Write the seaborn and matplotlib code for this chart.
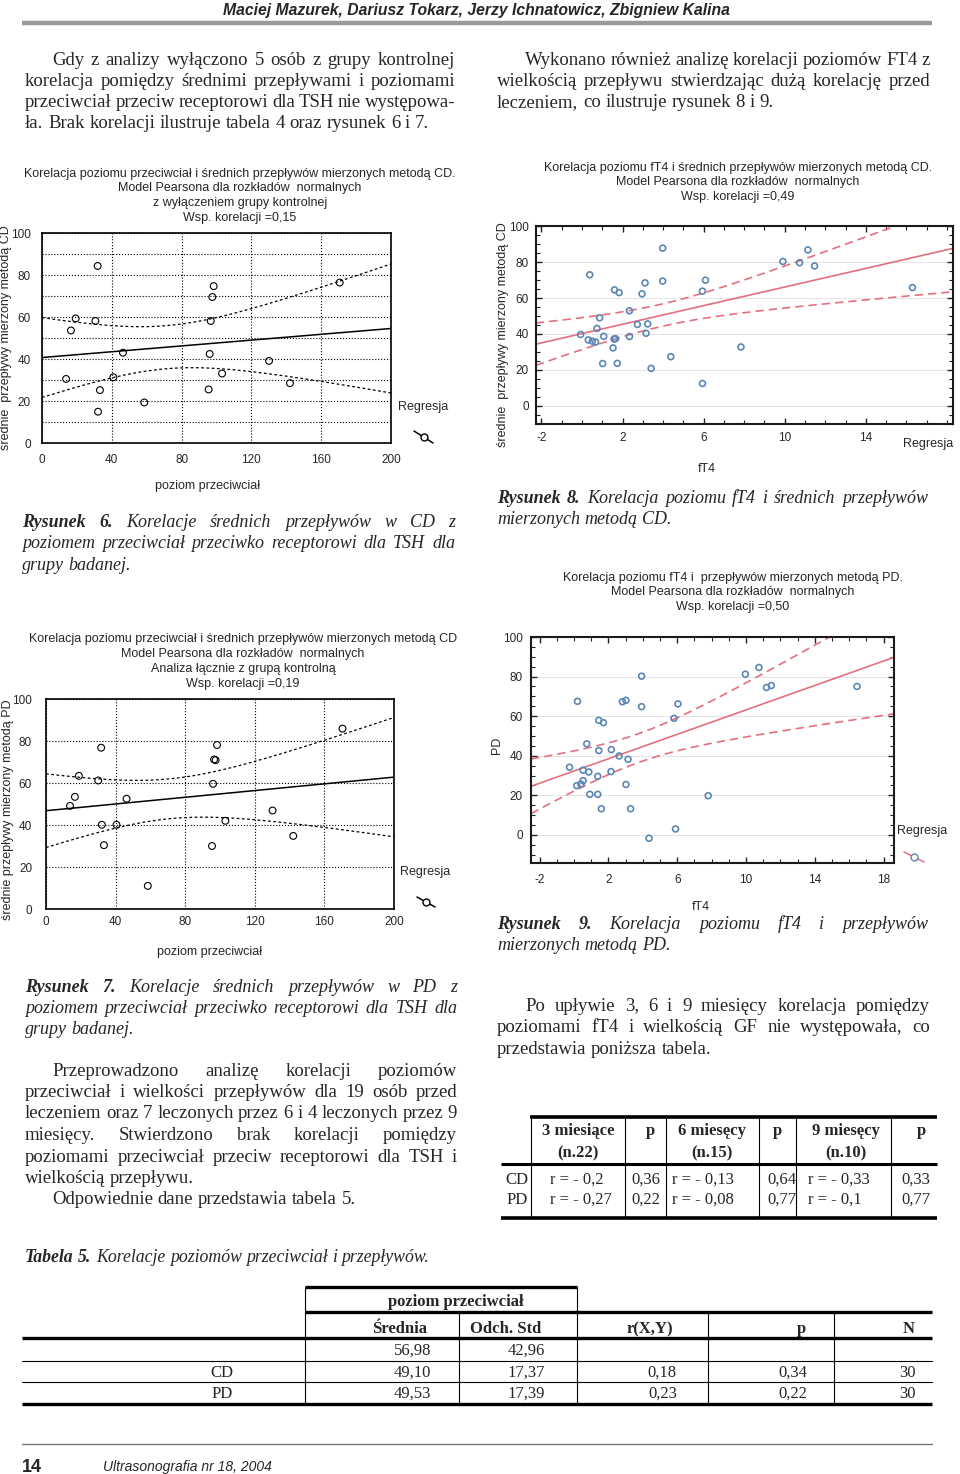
import matplotlib
matplotlib.use("Agg")
import matplotlib.pyplot as plt
import numpy as np
import seaborn as sns
from matplotlib import font_manager

# ---- dane ----
# Rys. 6: poziom przeciwciał vs średnie przepływy CD (bez grupy kontrolnej)
ab6_x = [31.9, 19.3, 30.6, 16.6, 98.4, 97.6, 96.7, 170.6, 46.4, 96.1,
         130.1, 13.8, 40.9, 103.2, 33.2, 95.5, 142.1, 58.6, 32.1]
cd6_y = [84.3, 59.3, 58.1, 53.6, 74.7, 69.5, 58.1, 76.4, 43.0, 42.4,
         39.1, 30.5, 31.3, 33.1, 25.2, 25.5, 28.5, 19.3, 14.9]

# Rys. 7: poziom przeciwciał vs średnie przepływy PD
ab7_x = [31.7, 18.9, 30.0, 16.6, 13.8, 46.3, 32.1, 40.5, 33.3, 58.5,
         98.3, 96.6, 97.5, 96.0, 103.1, 95.4, 130.2, 142.1, 170.4]
pd7_y = [76.8, 63.4, 61.2, 53.4, 49.1, 52.5, 40.1, 40.1, 30.4, 11.0,
         78.1, 71.2, 70.9, 59.6, 42.0, 30.0, 46.9, 34.8, 85.9]

# Rys. 8: fT4 vs średnie przepływy CD
ft4_8 = [0.38, 3.98, 1.60, 1.83, 2.96, 3.11, 3.98, 5.94, 6.09, 9.91,
         10.73, 11.14, 11.47, 16.30, 2.34, 0.87, 0.74, -0.07, 0.31, 0.51,
         0.67, 1.07, 1.58, 1.65, 1.53, 2.34, 2.73, 3.24, 3.16, 1.02,
         1.74, 3.41, 4.38, 7.84, 5.94]
cd8_y = [72.9, 87.7, 64.5, 63.0, 62.3, 68.4, 69.4, 63.8, 69.9, 80.3,
         79.6, 86.7, 77.8, 65.8, 52.9, 49.0, 43.1, 39.7, 36.7, 36.0,
         35.5, 38.7, 37.2, 37.4, 32.3, 38.6, 45.3, 45.6, 40.4, 23.6,
         23.7, 20.9, 27.4, 32.8, 12.5]

# Rys. 9: fT4 vs przepływy PD
ft4_9 = [0.20, 3.93, 2.81, 3.02, 3.93, 6.04, 5.81, 1.44, 1.71, 9.96,
         10.75, 11.19, 11.47, 16.45, 0.74, 1.44, 2.17, 2.62, 3.14, -0.26,
         0.53, 0.86, 2.15, 1.38, 0.53, 0.40, 0.16, 3.02, 0.92, 1.38,
         7.80, 1.59, 3.29, 5.90, 4.36]
pd9_y = [67.5, 80.2, 67.3, 68.0, 64.8, 66.2, 58.9, 57.9, 56.7, 81.2,
         84.6, 74.5, 75.5, 75.0, 46.0, 42.6, 43.1, 39.9, 38.2, 34.2,
         32.7, 31.8, 32.0, 29.6, 27.4, 25.7, 24.9, 25.5, 20.5, 20.5,
         19.8, 13.2, 13.2, 3.0, -1.7]

ab_ticks = [0, 40, 80, 120, 160, 200]
ft4_ticks_8 = [-2, 2, 6, 10, 14]
ft4_ticks_9 = [-2, 2, 6, 10, 14, 18]
flow_ticks = [0, 20, 40, 60, 80, 100]

# tabela miesięcy
mies_head = ["3 miesiące\n(n.22)", "p", "6 miesęcy\n(n.15)", "p", "9 miesęcy\n(n.10)", "p"]
mies_rows = ["CD", "PD"]
mies_r = [["r = - 0,2", "r = - 0,13", "r = - 0,33"],
          ["r = - 0,27", "r = - 0,08", "r = - 0,1"]]
mies_p = [["0,36", "0,64", "0,33"],
          ["0,22", "0,77", "0,77"]]

# tabela 5
t5_head = ["Średnia", "Odch. Std", "r(X,Y)", "p", "N"]
t5_rows = ["", "CD", "PD"]
t5_srednia = ["56,98", "49,10", "49,53"]
t5_odch = ["42,96", "17,37", "17,39"]
t5_r = ["", "0,18", "0,23"]
t5_p = ["", "0,34", "0,22"]
t5_n = ["", "30", "30"]

SERIF = "Liberation Serif"
SANS = "Liberation Sans"
try:
    font_manager.findfont("Liberation Sans Narrow", fallback_to_default=False)
    NARROW = "Liberation Sans Narrow"
except Exception:
    NARROW = SANS

W, H = 960, 1474
sns.set_style("white")
plt.rcParams["font.family"] = [SANS, "DejaVu Sans"]
plt.rcParams["axes.unicode_minus"] = False

fig = plt.figure(figsize=(W / 100, H / 100), dpi=100)
page = fig.add_axes([0, 0, 1, 1])
page.set_xlim(0, W)
page.set_ylim(H, 0)
page.axis("off")
renderer = fig.canvas.get_renderer()


def px_axes(l, t, r, b):
    return fig.add_axes([l / W, 1 - b / H, (r - l) / W, (b - t) / H])


def t975(df):
    z = 1.959964
    return z + (z ** 3 + z) / (4 * df) + (5 * z ** 5 + 16 * z ** 3 + 3 * z) / (96 * df ** 2)


def conf_band(x, y, grid):
    x = np.asarray(x)
    y = np.asarray(y)
    n = len(x)
    b, a = np.polyfit(x, y, 1)
    s = np.sqrt(((y - (a + b * x)) ** 2).sum() / (n - 2))
    sxx = ((x - x.mean()) ** 2).sum()
    half = t975(n - 2) * s * np.sqrt(1 / n + (grid - x.mean()) ** 2 / sxx)
    fit = a + b * grid
    return fit - half, fit + half


def text_line(x0, x1, y, words, size, justify=True, family=SERIF):
    items = []
    for word, weight, style in words:
        t = page.text(x0, y, word, fontsize=size, family=family, fontweight=weight,
                      fontstyle=style, ha="left", va="center_baseline")
        items.append((t, t.get_window_extent(renderer).width))
    total = sum(w for _, w in items)
    if justify and len(items) > 1:
        gap = (x1 - x0 - total) / (len(items) - 1)
    else:
        gap = size * 100 / 72 * 0.25
    x = x0
    for t, w in items:
        t.set_x(x)
        x += w + gap


def paragraph(lines, x0, x1, y0, dy, size, style="normal", indent=None,
              last_justify=False, bold_first=0, nojust=()):
    for i, line in enumerate(lines):
        words = []
        for j, w in enumerate(line.split()):
            if i == 0 and j < bold_first:
                words.append((w, "bold", style))
            else:
                words.append((w, "normal", style))
        start = x0
        if indent is not None and i in indent:
            start = indent[i]
        just = (i < len(lines) - 1 or last_justify) and i not in nojust
        text_line(start, x1, y0 + i * dy, words, size, justify=just)


def legend_glyph(x0, y0, x1, y1, lc, mc):
    page.plot([x0, x1], [y0, y1], color=lc, lw=1.1)
    page.plot([(x0 + x1) / 2], [(y0 + y1) / 2], marker="o", ms=5, mfc="white",
              mec=mc, mew=1.0)


def bw_chart(ax, x, y, minor_y):
    ax.set_xlim(0, 200)
    ax.set_ylim(0, 100)
    sns.scatterplot(x=x, y=y, ax=ax, s=24, marker="o", color="none",
                    edgecolor="black", linewidth=0.8, zorder=3)
    ax.collections[-1].set_facecolor("none")
    ax.collections[-1].set_edgecolor("black")
    sns.regplot(x=x, y=y, ax=ax, scatter=False, ci=None, truncate=False,
                line_kws=dict(color="black", lw=1.1))
    grid = np.linspace(0, 200, 200)
    lo, hi = conf_band(x, y, grid)
    ax.plot(grid, lo, color="black", lw=0.9, ls=(0, (2.2, 2)))
    ax.plot(grid, hi, color="black", lw=0.9, ls=(0, (2.2, 2)))
    ax.set_xlim(0, 200)
    ax.set_ylim(0, 100)
    ax.set_xticks(ab_ticks)
    ax.set_yticks(flow_ticks)
    if minor_y:
        ax.set_yticks(np.arange(10, 100, 10), minor=True)
        ax.grid(True, which="minor", axis="y", ls=":", color="black", lw=0.8)
    ax.grid(True, which="major", ls=":", color="black", lw=0.8)
    ax.set_axisbelow(True)
    for sp in ax.spines.values():
        sp.set_visible(True)
        sp.set_color("black")
        sp.set_linewidth(1.2)
    ax.set_xlabel("")
    ax.set_ylabel("")


def color_chart(ax, x, y, xlim, ylim, xticks):
    blue = "#5c86b5"
    red = "#e3707f"
    ax.set_xlim(*xlim)
    ax.set_ylim(*ylim)
    sns.scatterplot(x=x, y=y, ax=ax, s=18, marker="o", color="none",
                    edgecolor=blue, linewidth=1.2, zorder=3)
    ax.collections[-1].set_facecolor("none")
    ax.collections[-1].set_edgecolor(blue)
    sns.regplot(x=x, y=y, ax=ax, scatter=False, ci=None, truncate=False,
                line_kws=dict(color=red, lw=1.2))
    grid = np.linspace(xlim[0], xlim[1], 200)
    lo, hi = conf_band(x, y, grid)
    ax.plot(grid, lo, color=red, lw=1.2, ls=(0, (5, 3)))
    ax.plot(grid, hi, color=red, lw=1.2, ls=(0, (5, 3)))
    ax.set_xlim(*xlim)
    ax.set_ylim(*ylim)
    ax.set_xticks(xticks)
    ax.set_yticks(flow_ticks)
    ax.set_xticks(np.arange(np.ceil(xlim[0]), xlim[1], 1), minor=True)
    ax.set_yticks(np.arange(-10, 101, 5), minor=True)
    ax.grid(True, which="major", axis="y", color="#e4e4e4", lw=0.7)
    ax.set_axisbelow(True)
    ax.tick_params(which="both", direction="in", top=True, right=True,
                   bottom=True, left=True, color="#222222")
    ax.tick_params(which="major", length=4, width=1)
    ax.tick_params(which="minor", length=3, width=0.8)
    for sp in ax.spines.values():
        sp.set_visible(True)
        sp.set_color("#1a1a1a")
        sp.set_linewidth(1.5)
    ax.set_xlabel("")
    ax.set_ylabel("")


TICK = 8.5
CT = 9

# ---- nagłówek ----
page.text(476, 9, "Maciej Mazurek, Dariusz Tokarz, Jerzy Ichnatowicz, Zbigniew Kalina",
          family=NARROW, fontsize=11.3, fontweight="bold", fontstyle="italic",
          ha="center", va="center_baseline")
page.plot([22, 932], [23, 23], color="#9a9a9a", lw=3.2, solid_capstyle="butt")

paragraph(["Gdy z analizy wyłączono 5 osób z grupy kontrolnej",
           "korelacja pomiędzy średnimi przepływami i poziomami",
           "przeciwciał przeciw receptorowi dla TSH nie występowa-",
           "ła. Brak korelacji ilustruje tabela 4 oraz rysunek 6 i 7."],
          25, 455, 58, 21.3, 13.5, indent={0: 52})
paragraph(["Wykonano również analizę korelacji poziomów FT4 z",
           "wielkością przepływu stwierdzając dużą korelację przed",
           "leczeniem, co ilustruje rysunek 8 i 9."],
          497, 930, 58, 21.3, 13.5, indent={0: 525})

# ---- Rysunek 6 ----
for i, s in enumerate(["Korelacja poziomu przeciwciał i średnich przepływów mierzonych metodą CD.",
                       "Model Pearsona dla rozkładów  normalnych",
                       "z wyłączeniem grupy kontrolnej",
                       "Wsp. korelacji =0,15"]):
    page.text(240, 172 + i * 14.7, s, fontsize=CT, ha="center", va="center_baseline")
ax6 = px_axes(42, 233, 391, 443)
bw_chart(ax6, ab6_x, cd6_y, minor_y=True)
ax6.tick_params(axis="both", length=0, labelsize=TICK)
ax6.tick_params(axis="y", pad=8)
ax6.tick_params(axis="x", pad=8)
page.text(6, 338, "średnie  przepływy mierzony metodą CD", rotation=90, fontsize=CT,
          ha="center", va="center")
page.text(208, 484, "poziom przeciwciał", fontsize=CT, ha="center", va="center_baseline")
page.text(398, 405, "Regresja", fontsize=CT, ha="left", va="center_baseline")
legend_glyph(414, 431, 433, 443, "black", "black")

paragraph(["Rysunek 6. Korelacje średnich przepływów w CD z",
           "poziomem przeciwciał przeciwko receptorowi dla TSH dla",
           "grupy badanej."],
          22, 455, 520, 21.5, 13, style="italic", bold_first=2)

# ---- Rysunek 8 ----
for i, s in enumerate(["Korelacja poziomu fT4 i średnich przepływów mierzonych metodą CD.",
                       "Model Pearsona dla rozkładów  normalnych",
                       "Wsp. korelacji =0,49"]):
    page.text(738, 166 + i * 14.7, s, fontsize=CT, ha="center", va="center_baseline")
ax8 = px_axes(536, 226, 953, 424)
color_chart(ax8, ft4_8, cd8_y, (-2.27, 18.3), (0, 100), ft4_ticks_8)
ax8.tick_params(which="both", labelsize=TICK)
ax8.tick_params(axis="y", which="major", pad=5)
ax8.tick_params(axis="x", which="major", pad=6)
page.text(503, 335, "średnie  przepływy mierzony metodą CD", rotation=90, fontsize=CT,
          ha="center", va="center")
page.text(707, 467, "fT4", fontsize=CT, ha="center", va="center_baseline")
page.text(953, 442, "Regresja", fontsize=CT, ha="right", va="center_baseline")

paragraph(["Rysunek 8. Korelacja poziomu fT4 i średnich przepływów",
           "mierzonych metodą CD."],
          497, 928, 496, 21.5, 13, style="italic", bold_first=2)

# ---- Rysunek 7 ----
for i, s in enumerate(["Korelacja poziomu przeciwciał i średnich przepływów mierzonych metodą CD",
                       "Model Pearsona dla rozkładów  normalnych",
                       "Analiza łącznie z grupą kontrolną",
                       "Wsp. korelacji =0,19"]):
    page.text(243, 637 + i * 15, s, fontsize=CT, ha="center", va="center_baseline")
ax7 = px_axes(46, 699, 394, 909)
bw_chart(ax7, ab7_x, pd7_y, minor_y=False)
ax7.tick_params(axis="both", length=0, labelsize=TICK)
ax7.tick_params(axis="y", pad=10)
ax7.tick_params(axis="x", pad=5)
page.text(8, 810, "średnie przepływy mierzony metodą PD", rotation=90, fontsize=CT,
          ha="center", va="center")
page.text(210, 950, "poziom przeciwciał", fontsize=CT, ha="center", va="center_baseline")
page.text(400, 870, "Regresja", fontsize=CT, ha="left", va="center_baseline")
legend_glyph(417, 897, 435, 907, "black", "black")

paragraph(["Rysunek 7. Korelacje średnich przepływów w PD z",
           "poziomem przeciwciał przeciwko receptorowi dla TSH dla",
           "grupy badanej."],
          25, 457, 985, 21.5, 13, style="italic", bold_first=2)

paragraph(["Przeprowadzono analizę korelacji poziomów",
           "przeciwciał i wielkości przepływów dla 19 osób przed",
           "leczeniem oraz 7 leczonych przez 6 i 4 leczonych przez 9",
           "miesięcy. Stwierdzono brak korelacji pomiędzy",
           "poziomami przeciwciał przeciw receptorowi dla TSH i",
           "wielkością przepływu.",
           "Odpowiednie dane przedstawia tabela 5."],
          25, 457, 1069, 21.5, 13.5, indent={0: 52, 6: 52}, nojust=(5,))

# ---- Rysunek 9 ----
for i, s in enumerate(["Korelacja poziomu fT4 i  przepływów mierzonych metodą PD.",
                       "Model Pearsona dla rozkładów  normalnych",
                       "Wsp. korelacji =0,50"]):
    page.text(733, 576 + i * 14.8, s, fontsize=CT, ha="center", va="center_baseline")
ax9 = px_axes(531, 637, 894, 863)
color_chart(ax9, ft4_9, pd9_y, (-2.5, 18.6), (-14.2, 100), ft4_ticks_9)
ax9.tick_params(which="both", labelsize=TICK)
ax9.tick_params(axis="y", which="major", pad=6)
ax9.tick_params(axis="x", which="major", pad=8)
page.text(497, 745, "PD", rotation=90, fontsize=CT, ha="center", va="center")
page.text(701, 905, "fT4", fontsize=CT, ha="center", va="center_baseline")
page.text(897, 829, "Regresja", fontsize=CT, ha="left", va="center_baseline")
legend_glyph(904, 852, 924, 862, "#e3707f", "#5c86b5")

paragraph(["Rysunek 9. Korelacja poziomu fT4 i  przepływów",
           "mierzonych metodą PD."],
          497, 928, 922, 21.5, 13, style="italic", bold_first=2)

paragraph(["Po upływie 3, 6 i 9 miesięcy korelacja pomiędzy",
           "poziomami fT4 i wielkością GF nie występowała, co",
           "przedstawia poniższa tabela."],
          497, 930, 1004, 21.5, 13.5, indent={0: 525})

# ---- tabela miesięcy ----
TS = 12
page.plot([530, 937], [1117, 1117], color="black", lw=2.6, solid_capstyle="butt")
page.plot([501, 937], [1164, 1164], color="black", lw=2.2, solid_capstyle="butt")
page.plot([501, 937], [1218, 1218], color="black", lw=2.6, solid_capstyle="butt")
for vx in [531, 625, 666, 759, 796, 891]:
    page.plot([vx, vx], [1117, 1218], color="black", lw=0.8)
head_x = [578, 650, 712, 777, 846, 921]
for hx, hs in zip(head_x, mies_head):
    lines = hs.split("\n")
    for k, ln in enumerate(lines):
        page.text(hx, 1129 + k * 22, ln, family=SERIF, fontsize=TS, fontweight="bold",
                  ha="center", va="center_baseline")
row_y = [1178, 1198]
r_x = [550, 672, 808]
p_x = [625, 762, 895]
for i, name in enumerate(mies_rows):
    page.text(517, row_y[i], name, family=SERIF, fontsize=TS, ha="center",
              va="center_baseline")
    for j in range(3):
        page.text(r_x[j], row_y[i], mies_r[i][j], family=SERIF, fontsize=TS,
                  ha="left", va="center_baseline")
        page.text(p_x[j] + 35, row_y[i], mies_p[i][j], family=SERIF, fontsize=TS,
                  ha="right", va="center_baseline")

# ---- Tabela 5 ----
text_line(25, 440, 1255, [("Tabela", "bold", "italic"), ("5.", "bold", "italic"),
                          ("Korelacje", "normal", "italic"), ("poziomów", "normal", "italic"),
                          ("przeciwciał", "normal", "italic"), ("i", "normal", "italic"),
                          ("przepływów.", "normal", "italic")], 12.8, justify=False)

page.plot([305, 577], [1287, 1287], color="black", lw=2.4, solid_capstyle="butt")
page.plot([305, 932], [1312, 1312], color="black", lw=2.4, solid_capstyle="butt")
page.plot([22, 932], [1338, 1338], color="black", lw=2.4, solid_capstyle="butt")
page.plot([22, 932], [1361, 1361], color="black", lw=0.8)
page.plot([22, 932], [1382, 1382], color="black", lw=0.8)
page.plot([22, 932], [1404, 1404], color="black", lw=2.4, solid_capstyle="butt")
for vx, top in [(305, 1287), (459, 1312), (577, 1287), (708, 1312), (834, 1312)]:
    page.plot([vx, vx], [top, 1404], color="black", lw=0.8)
page.text(456, 1300, "poziom przeciwciał", family=SERIF, fontsize=12, fontweight="bold",
          ha="center", va="center_baseline")
for hx, hs in zip([400, 506, 650, 801, 909], t5_head):
    page.text(hx, 1327, hs, family=SERIF, fontsize=12, fontweight="bold",
              ha="center", va="center_baseline")
t5_y = [1349, 1371, 1392]
for i in range(3):
    page.text(222, t5_y[i], t5_rows[i], family=SERIF, fontsize=12, ha="center",
              va="center_baseline")
    for cx, col in zip([431, 545, 677, 807, 916], [t5_srednia, t5_odch, t5_r, t5_p, t5_n]):
        page.text(cx, t5_y[i], col[i], family=SERIF, fontsize=12, ha="right",
                  va="center_baseline")

# ---- stopka ----
page.plot([22, 932], [1444, 1444], color="#777777", lw=1.0)
page.text(22, 1465, "14", family=SANS, fontsize=13, fontweight="bold", ha="left",
          va="center_baseline")
page.text(103, 1465, "Ultrasonografia nr 18, 2004", family=SANS, fontsize=10,
          fontstyle="italic", ha="left", va="center_baseline")

fig.savefig("out.png", dpi=100)
